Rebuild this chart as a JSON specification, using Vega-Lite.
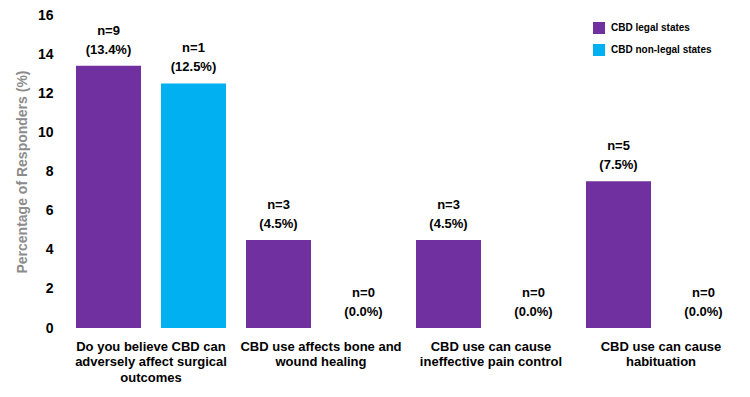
{
  "$schema": "https://vega.github.io/schema/vega-lite/v6.json",
  "autosize": {"type": "none"},
  "width": 680,
  "height": 313,
  "padding": {"left": 66, "top": 15, "right": 4, "bottom": 69},
  "background": "white",
  "config": {
    "font": "Liberation Sans",
    "view": {"stroke": null}
  },
  "data": {
    "values": [
      {"question": "Do you believe CBD can|adversely affect surgical|outcomes", "group": "CBD legal states", "pct": 13.4, "label": "n=9\n(13.4%)"},
      {"question": "Do you believe CBD can|adversely affect surgical|outcomes", "group": "CBD non-legal states", "pct": 12.5, "label": "n=1\n(12.5%)"},
      {"question": "CBD use affects bone and|wound healing", "group": "CBD legal states", "pct": 4.5, "label": "n=3\n(4.5%)"},
      {"question": "CBD use affects bone and|wound healing", "group": "CBD non-legal states", "pct": 0, "label": "n=0\n(0.0%)"},
      {"question": "CBD use can cause|ineffective pain control", "group": "CBD legal states", "pct": 4.5, "label": "n=3\n(4.5%)"},
      {"question": "CBD use can cause|ineffective pain control", "group": "CBD non-legal states", "pct": 0, "label": "n=0\n(0.0%)"},
      {"question": "CBD use can cause|habituation", "group": "CBD legal states", "pct": 7.5, "label": "n=5\n(7.5%)"},
      {"question": "CBD use can cause|habituation", "group": "CBD non-legal states", "pct": 0, "label": "n=0\n(0.0%)"}
    ]
  },
  "encoding": {
    "x": {
      "field": "question",
      "type": "nominal",
      "sort": null,
      "scale": {"paddingInner": 0, "paddingOuter": 0},
      "axis": {
        "title": null,
        "labelAngle": 0,
        "labelExpr": "split(datum.label, '|')",
        "labelFontSize": 13,
        "labelFontWeight": "bold",
        "labelColor": "black",
        "labelLineHeight": 15.5,
        "labelPadding": 12,
        "ticks": false,
        "domain": false,
        "labelLimit": 200
      }
    },
    "xOffset": {
      "field": "group",
      "type": "nominal",
      "scale": {"paddingInner": 0.235, "paddingOuter": 0.1176}
    },
    "y": {
      "field": "pct",
      "type": "quantitative",
      "scale": {"domain": [0, 16]},
      "axis": {
        "title": "Percentage of Responders (%)",
        "titleFontSize": 14,
        "titleFontWeight": "bold",
        "titleColor": "#8c8c8c",
        "titlePadding": 8,
        "values": [0, 2, 4, 6, 8, 10, 12, 14, 16],
        "labelFontSize": 14,
        "labelFontWeight": "bold",
        "labelColor": "black",
        "labelPadding": 13,
        "ticks": false,
        "domain": false,
        "grid": false
      }
    }
  },
  "layer": [
    {
      "mark": {"type": "bar"},
      "encoding": {
        "color": {
          "field": "group",
          "type": "nominal",
          "scale": {"domain": ["CBD legal states", "CBD non-legal states"], "range": ["#7030A0", "#00B0F0"]},
          "legend": {
            "title": null,
            "orient": "none",
            "legendX": 527,
            "legendY": 7,
            "symbolType": "square",
            "symbolSize": 144,
            "symbolStrokeWidth": 0,
            "labelFontSize": 10,
            "labelFontWeight": "bold",
            "labelColor": "black",
            "labelOffset": 6,
            "rowPadding": 10,
            "padding": 0
          }
        }
      }
    },
    {
      "mark": {"type": "text", "lineBreak": "\n", "lineHeight": 19, "baseline": "bottom", "dy": -28, "fontSize": 13, "fontWeight": "bold", "color": "black"},
      "encoding": {
        "text": {"field": "label"}
      }
    }
  ]
}
